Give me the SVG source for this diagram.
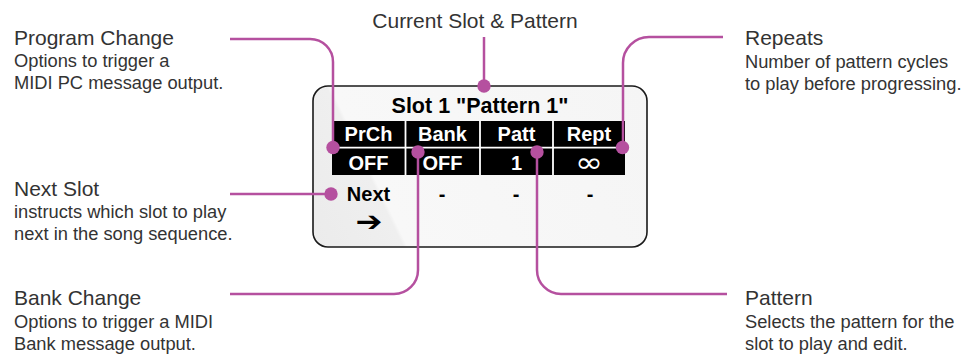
<svg xmlns="http://www.w3.org/2000/svg" width="973" height="354" viewBox="0 0 973 354">
  <defs>
    <linearGradient id="glass" x1="313" y1="247" x2="647" y2="86" gradientUnits="userSpaceOnUse">
      <stop offset="0" stop-color="#ebebeb"/>
      <stop offset="0.22" stop-color="#efefef"/>
      <stop offset="0.23" stop-color="#f8f8f8"/>
      <stop offset="1" stop-color="#f5f5f5"/>
    </linearGradient>
  </defs>
  <style>
    .title { font-family: "Liberation Sans", Arial, sans-serif; font-size: 21px; fill: #333333; }
    .sub { font-family: "Liberation Sans", Arial, sans-serif; font-size: 18.3px; fill: #333333; }
    .scr { font-family: "Liberation Sans", Arial, sans-serif; font-weight: bold; font-size: 20px; text-anchor: middle; }
    .w { fill: #ffffff; }
    .k { fill: #000000; }
    .conn { fill: none; stroke: #b5509f; stroke-width: 2.5; }
    .dot { fill: #b5509f; }
  </style>
  <rect width="973" height="354" fill="#ffffff"/>

  <g id="screen">
    <rect x="313" y="86" width="334" height="161" rx="15" ry="15" fill="url(#glass)" stroke="#1a1a1a" stroke-width="1.6"/>
    <text class="scr k" x="480" y="113" style="font-size:21.5px">Slot 1 "Pattern 1"</text>
    <rect x="332" y="121" width="293" height="54" fill="#000000"/>
    <g stroke="#ffffff" stroke-width="1.8">
      <line x1="332" y1="147.7" x2="625" y2="147.7"/>
      <line x1="405.5" y1="121" x2="405.5" y2="175"/>
      <line x1="480" y1="121" x2="480" y2="175"/>
      <line x1="553" y1="121" x2="553" y2="175"/>
    </g>
    <text class="scr w" x="368.5" y="141">PrCh</text>
    <text class="scr w" x="442.5" y="141">Bank</text>
    <text class="scr w" x="516.5" y="141">Patt</text>
    <text class="scr w" x="589" y="141">Rept</text>
    <text class="scr w" x="368.5" y="169.5">OFF</text>
    <text class="scr w" x="442.5" y="169.5">OFF</text>
    <text class="scr w" x="516.5" y="169.5">1</text>
    <text class="w" x="589" y="171.5" text-anchor="middle" style="font-family:'DejaVu Sans',sans-serif;font-size:28px" textLength="28" lengthAdjust="spacingAndGlyphs">∞</text>
    <text class="scr k" x="368.5" y="200.5">Next</text>
    <text class="scr k" x="442" y="200.5">-</text>
    <text class="scr k" x="516" y="200.5">-</text>
    <text class="scr k" x="590" y="200.5">-</text>
    <text class="k" x="369" y="231" text-anchor="middle" style="font-family:'DejaVu Sans',sans-serif;font-weight:bold;font-size:28px" textLength="27" lengthAdjust="spacingAndGlyphs">➔</text>
  </g>

  <g id="label-current">
    <text class="title" x="475" y="28" text-anchor="middle">Current Slot &amp; Pattern</text>
  </g>
  <g id="label-program">
    <text class="title" x="14" y="45">Program Change</text>
    <text class="sub" x="14" y="67">Options to trigger a</text>
    <text class="sub" x="14" y="89">MIDI PC message output.</text>
  </g>
  <g id="label-next">
    <text class="title" x="14" y="196">Next Slot</text>
    <text class="sub" x="14" y="218">instructs which slot to play</text>
    <text class="sub" x="14" y="240">next in the song sequence.</text>
  </g>
  <g id="label-bank">
    <text class="title" x="14" y="305">Bank Change</text>
    <text class="sub" x="14" y="328">Options to trigger a MIDI</text>
    <text class="sub" x="14" y="350">Bank message output.</text>
  </g>
  <g id="label-repeats">
    <text class="title" x="745" y="45">Repeats</text>
    <text class="sub" x="745" y="68">Number of pattern cycles</text>
    <text class="sub" x="745" y="90">to play before progressing.</text>
  </g>
  <g id="label-pattern">
    <text class="title" x="745" y="305">Pattern</text>
    <text class="sub" x="745" y="328">Selects the pattern for the</text>
    <text class="sub" x="745" y="350">slot to play and edit.</text>
  </g>

  <g id="connectors">
    <path class="conn" d="M484 37 V86"/>
    <path class="conn" d="M230 39 H310 A23 23 0 0 1 333 62 V147"/>
    <path class="conn" d="M723 37 H649 A26 26 0 0 0 623 63 V147"/>
    <path class="conn" d="M230 194 H331"/>
    <path class="conn" d="M418 152 V270 A24 24 0 0 1 394 294 H230"/>
    <path class="conn" d="M537 152 V270 A24 24 0 0 0 561 294 H727"/>
    <circle class="dot" cx="484" cy="86" r="6.7"/>
    <circle class="dot" cx="333" cy="147.5" r="6.7"/>
    <circle class="dot" cx="622.5" cy="147.5" r="6.7"/>
    <circle class="dot" cx="331" cy="194" r="6.7"/>
    <circle class="dot" cx="418" cy="152" r="6.7"/>
    <circle class="dot" cx="537" cy="152" r="6.7"/>
  </g>
</svg>
